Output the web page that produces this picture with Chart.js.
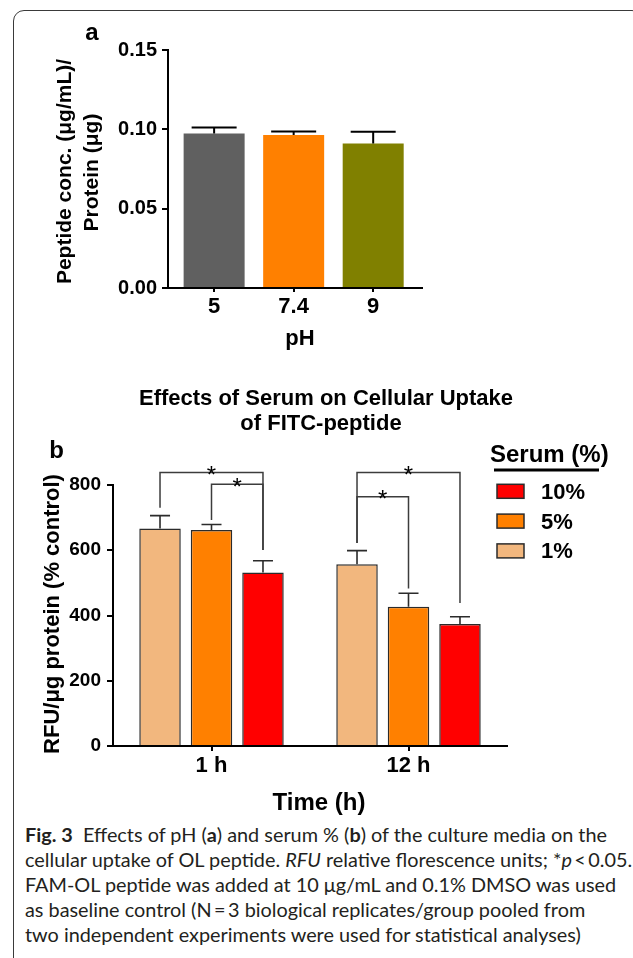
<!DOCTYPE html>
<html lang="en">
<head>
<meta charset="UTF-8">
<title>Fig. 3 - pH and serum effects on peptide uptake</title>
<script src="https://cdn.jsdelivr.net/npm/chart.js"></script>
<style>
    body {
        margin: 0;
        width: 633px;
        height: 958px;
        overflow: hidden;
        position: relative;
        background: #fff;
    }

    .frame {
        position: absolute;
        left: 13px;
        top: 10px;
        width: 630px;
        height: 1000px;
        border: 1.5px solid #3a3a3a;
        border-radius: 11px;
        box-sizing: border-box;
    }

    #wrapA { position: absolute; left: 0; top: 0; width: 633px; height: 360px; }
    #wrapB { position: absolute; left: 0; top: 360px; width: 633px; height: 460px; }

    .caption {
        position: absolute;
        left: 25px;
        top: 822px;
        font-family: Lato, "Open Sans", sans-serif;
        font-size: 19px;
        line-height: 25px;
        color: #231f20;
        white-space: nowrap;
        transform-origin: left top;
    }
    .caption div { display: block; }
    #capLine1 { display: inline-block; }
</style>
</head>
<body>
<div class="frame"></div>
<div id="wrapA"><canvas id="chartA"></canvas></div>
<div id="wrapB"><canvas id="chartB"></canvas></div>

<div class="caption" id="caption">
    <div><span id="capLine1"><b>Fig. 3</b>&nbsp; Effects of pH (<b>a</b>) and serum % (<b>b</b>) of the culture media on the</span></div>
    <div>cellular uptake of OL peptide. <i>RFU</i> relative florescence units; *<i>p</i>&thinsp;&lt;&thinsp;0.05.</div>
    <div>FAM-OL peptide was added at 10 μg/mL and 0.1% DMSO was used</div>
    <div>as baseline control (N&thinsp;=&thinsp;3 biological replicates/group pooled from</div>
    <div>two independent experiments were used for statistical analyses)</div>
</div>

<script>
    // ---- panel a : peptide per protein vs pH ----
    const phLabels = ['5', '7.4', '9'];
    const phMean = [0.0973, 0.0964, 0.0911];
    const phSem = [0.0038, 0.0023, 0.0074];
    const phTicks = [0, 0.05, 0.10, 0.15];
    const phColors = ['#606060', '#ff8000', '#808000'];

    // ---- panel b : serum effect on uptake ----
    const timeLabels = ['1 h', '12 h'];
    const serumLabels = ['1%', '5%', '10%'];
    const serum1Mean = [667, 557];
    const serum5Mean = [662, 427];
    const serum10Mean = [532, 374];
    const serum1Sem = [39, 42];
    const serum5Sem = [17, 41];
    const serum10Sem = [36, 22];
    const uptakeTicks = [0, 200, 400, 600, 800];
    const serumColors = ['#f2b77e', '#ff8000', '#ff0000'];

    // significance brackets: [time group, left bar, right bar, bar top, left leg end, right leg end]
    const sigBrackets = [
        [0, 0, 2, 838, 730, 601],
        [0, 1, 2, 802, 693, 601],
        [1, 0, 2, 838, 622, 438],
        [1, 0, 1, 764, 622, 483]
    ];

    const FONT = '"Liberation Sans", Arial, sans-serif';
    Chart.defaults.font.family = FONT;
    Chart.defaults.font.weight = 'bold';
    Chart.defaults.color = '#000';

    function label(ctx, text, x, y, size, rotate) {
        ctx.save();
        ctx.font = 'bold ' + size + 'px ' + FONT;
        ctx.fillStyle = '#000';
        ctx.textAlign = 'center';
        ctx.textBaseline = 'alphabetic';
        ctx.translate(x, y);
        if (rotate) ctx.rotate(-Math.PI / 2);
        ctx.fillText(text, 0, 0);
        ctx.restore();
    }

    function axisStyle(tickLength) {
        return {
            grid: { display: true, drawOnChartArea: false, drawTicks: true, tickLength: tickLength, color: '#000', lineWidth: 2, offset: false },
            border: { display: true, color: '#000', width: 2 }
        };
    }

    const panelA = {
        id: 'panelA',
        afterDatasetsDraw(chart) {
            const ctx = chart.ctx;
            const y = chart.scales.y;
            ctx.save();
            ctx.strokeStyle = '#000';
            ctx.lineWidth = 2;
            chart.getDatasetMeta(0).data.forEach((bar, i) => {
                const top = y.getPixelForValue(phMean[i] + phSem[i]);
                ctx.beginPath();
                ctx.moveTo(bar.x, bar.y);
                ctx.lineTo(bar.x, top);
                ctx.moveTo(bar.x - 22.5, top);
                ctx.lineTo(bar.x + 22.5, top);
                ctx.stroke();
            });
            ctx.restore();
        },
        afterDraw(chart) {
            const ctx = chart.ctx;
            label(ctx, 'a', 92, 40, 24);
            label(ctx, 'Peptide conc. (μg/mL)/', 71, 171.5, 21, true);
            label(ctx, 'Protein (μg)', 97.5, 172.5, 21, true);
            label(ctx, 'pH', 300, 345, 22);
        }
    };

    new Chart(document.getElementById('chartA'), {
        type: 'bar',
        data: {
            datasets: [{
                data: phMean.map((v, i) => ({ x: i, y: v })),
                backgroundColor: phColors,
                borderWidth: 0,
                categoryPercentage: 1,
                barPercentage: 0.767
            }]
        },
        options: {
            responsive: true,
            maintainAspectRatio: false,
            animation: false,
            layout: { padding: { top: 50, right: 211.3, bottom: 0, left: 0 } },
            plugins: { legend: { display: false }, tooltip: { enabled: false } },
            scales: {
                x: {
                    type: 'linear', min: -0.58, max: 2.61, offset: false,
                    afterBuildTicks: s => { s.ticks = phLabels.map((_, i) => ({ value: i })); },
                    afterFit: s => { s.height = 72; },
                    ...axisStyle(4),
                    ticks: { callback: v => phLabels[v], font: { size: 22, weight: 'bold' }, color: '#000', padding: 2, maxRotation: 0 }
                },
                y: {
                    min: 0, max: 0.15,
                    afterBuildTicks: s => { s.ticks = phTicks.map(v => ({ value: v })); },
                    afterFit: s => { s.width = 168; },
                    ...axisStyle(6),
                    ticks: { callback: v => v.toFixed(2), font: { size: 20, weight: 'bold' }, color: '#000', padding: 5 }
                }
            }
        },
        plugins: [panelA]
    });

    const OFF = 360; // top of panel b canvas on the page

    const panelB = {
        id: 'panelB',
        afterDatasetsDraw(chart) {
            const ctx = chart.ctx;
            const y = chart.scales.y;
            ctx.save();
            ctx.strokeStyle = '#2b2b2b';
            ctx.lineWidth = 1.6;
            chart.data.datasets.forEach((ds, d) => {
                chart.getDatasetMeta(d).data.forEach((bar, i) => {
                    const top = y.getPixelForValue(ds.data[i] + ds.sem[i]);
                    ctx.beginPath();
                    ctx.moveTo(bar.x, bar.y);
                    ctx.lineTo(bar.x, top);
                    ctx.moveTo(bar.x - 10, top);
                    ctx.lineTo(bar.x + 10, top);
                    ctx.stroke();
                });
            });

            // brackets and stars
            ctx.strokeStyle = '#3c3c3c';
            ctx.lineWidth = 1.5;
            sigBrackets.forEach(([g, a, b, top, endA, endB]) => {
                const xa = chart.getDatasetMeta(a).data[g].x;
                const xb = chart.getDatasetMeta(b).data[g].x;
                const yt = y.getPixelForValue(top);
                ctx.beginPath();
                ctx.moveTo(xa, y.getPixelForValue(endA));
                ctx.lineTo(xa, yt);
                ctx.lineTo(xb, yt);
                ctx.lineTo(xb, y.getPixelForValue(endB));
                ctx.stroke();
                ctx.save();
                ctx.font = '24px ' + FONT;
                ctx.fillStyle = '#000';
                ctx.textAlign = 'center';
                ctx.fillText('*', (xa + xb) / 2, yt + 10.5);
                ctx.restore();
            });
            ctx.restore();
        },
        afterDraw(chart) {
            const ctx = chart.ctx;
            label(ctx, 'Effects of Serum on Cellular Uptake', 326, 404.5 - OFF, 22);
            label(ctx, 'of FITC-peptide', 321, 429.5 - OFF, 22);
            label(ctx, 'b', 56.5, 458.3 - OFF, 24);
            label(ctx, 'RFU/μg protein (% control)', 59.3, 614 - OFF, 22, true);
            label(ctx, 'Time (h)', 319, 810 - OFF, 24);

            // legend: header with underline, then entries from top 10% to 1%
            ctx.save();
            ctx.font = 'bold 24px ' + FONT;
            ctx.fillStyle = '#000';
            ctx.textAlign = 'left';
            ctx.fillText('Serum (%)', 490, 461.7 - OFF);
            ctx.fillRect(494, 468.5 - OFF, 105, 3);
            const order = [2, 1, 0];
            order.forEach((d, row) => {
                const top = 484.3 + row * 29.8 - OFF;
                ctx.fillStyle = serumColors[d];
                ctx.fillRect(497, top, 27, 14);
                ctx.strokeStyle = '#2b2b2b';
                ctx.lineWidth = 1.5;
                ctx.strokeRect(497, top, 27, 14);
                ctx.fillStyle = '#000';
                ctx.font = 'bold 22px ' + FONT;
                ctx.fillText(chart.data.datasets[d].label, 541, top + 14.5);
            });
            ctx.restore();
        }
    };

    new Chart(document.getElementById('chartB'), {
        type: 'bar',
        data: {
            labels: timeLabels,
            datasets: [
                { label: serumLabels[0], data: serum1Mean, sem: serum1Sem, backgroundColor: serumColors[0] },
                { label: serumLabels[1], data: serum5Mean, sem: serum5Sem, backgroundColor: serumColors[1] },
                { label: serumLabels[2], data: serum10Mean, sem: serum10Sem, backgroundColor: serumColors[2] }
            ].map(ds => Object.assign(ds, {
                borderColor: '#2b2b2b', borderWidth: 1.5, categoryPercentage: 0.784, barPercentage: 0.806
            }))
        },
        options: {
            responsive: true,
            maintainAspectRatio: false,
            animation: false,
            layout: { padding: { top: 125, right: 126, bottom: 0, left: 0 } },
            plugins: { legend: { display: false }, tooltip: { enabled: false } },
            scales: {
                x: {
                    afterFit: s => { s.height = 74; },
                    ...axisStyle(5),
                    ticks: { font: { size: 22, weight: 'bold' }, color: '#000', padding: 2, maxRotation: 0 }
                },
                y: {
                    min: 0, max: 800,
                    afterBuildTicks: s => { s.ticks = uptakeTicks.map(v => ({ value: v })); },
                    afterFit: s => { s.width = 113; },
                    ...axisStyle(6),
                    ticks: { font: { size: 19, weight: 'bold' }, color: '#000', padding: 6 }
                }
            }
        },
        plugins: [panelB]
    });

    // fit caption width to the figure column
    const cap = document.getElementById('caption');
    const w = document.getElementById('capLine1').getBoundingClientRect().width;
    cap.style.transform = 'scaleX(' + (582 / w) + ')';
</script>
</body>
</html>
